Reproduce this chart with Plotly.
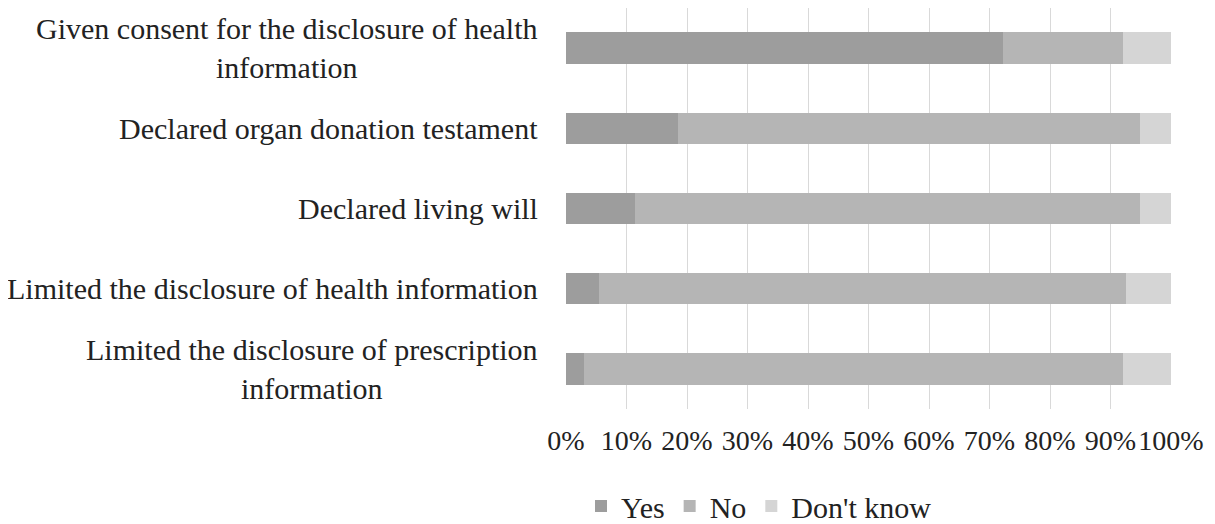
import plotly.graph_objects as go

categories = [
    "Given consent for the disclosure of health<br>information",
    "Declared organ donation testament",
    "Declared living will",
    "Limited the disclosure of health information",
    "Limited the disclosure of prescription<br>information",
]
yes_vals = [72.3, 18.5, 11.4, 5.4, 3.0]
no_vals = [19.8, 76.3, 83.4, 87.1, 89.1]
dk_vals = [7.9, 5.2, 5.2, 7.5, 7.9]
series_names = ["Yes", "No", "Don't know"]
colors = ["#9d9d9d", "#b5b5b5", "#d5d5d5"]
tick_vals = [0, 10, 20, 30, 40, 50, 60, 70, 80, 90, 100]
tick_text = [f"{v}%" for v in tick_vals]

FONT = "Liberation Serif"
FS = 30
TXT = "#222222"

fig = go.Figure()
for name, vals, col in zip(series_names, [yes_vals, no_vals, dk_vals], colors):
    fig.add_trace(go.Bar(
        y=categories, x=vals, name=name, orientation="h",
        marker=dict(color=col, line=dict(width=0)),
    ))

for cat in categories:
    fig.add_annotation(
        x=0, xref="paper", xshift=-26, y=cat, yref="y",
        text=cat, showarrow=False, xanchor="right", yanchor="middle",
        align="center", font=dict(family=FONT, size=FS, color=TXT),
    )

fig.update_layout(
    barmode="stack",
    bargap=0.61,
    width=1215, height=524,
    margin=dict(l=558, r=52, t=0, b=117),
    paper_bgcolor="white", plot_bgcolor="white",
    font=dict(family=FONT, size=FS, color=TXT),
    showlegend=True,
    legend=dict(
        orientation="h", x=0.319, y=-0.242, xanchor="center", yanchor="middle",
        font=dict(family=FONT, size=FS, color=TXT),
        traceorder="normal", itemwidth=30,
    ),
)
fig.update_xaxes(
    range=[0, 100], tickvals=tick_vals, ticktext=tick_text,
    tickangle=0, ticklabelstandoff=12,
    showgrid=True, gridcolor="#d9d9d9", gridwidth=1,
    zeroline=False, showline=False, ticks="",
    tickfont=dict(family=FONT, size=28, color=TXT),
)
fig.update_yaxes(
    categoryorder="array", categoryarray=categories[::-1],
    range=[-0.5, 4.5],
    showticklabels=False, showgrid=False, zeroline=False, ticks="",
)

fig.write_html("out.html")
